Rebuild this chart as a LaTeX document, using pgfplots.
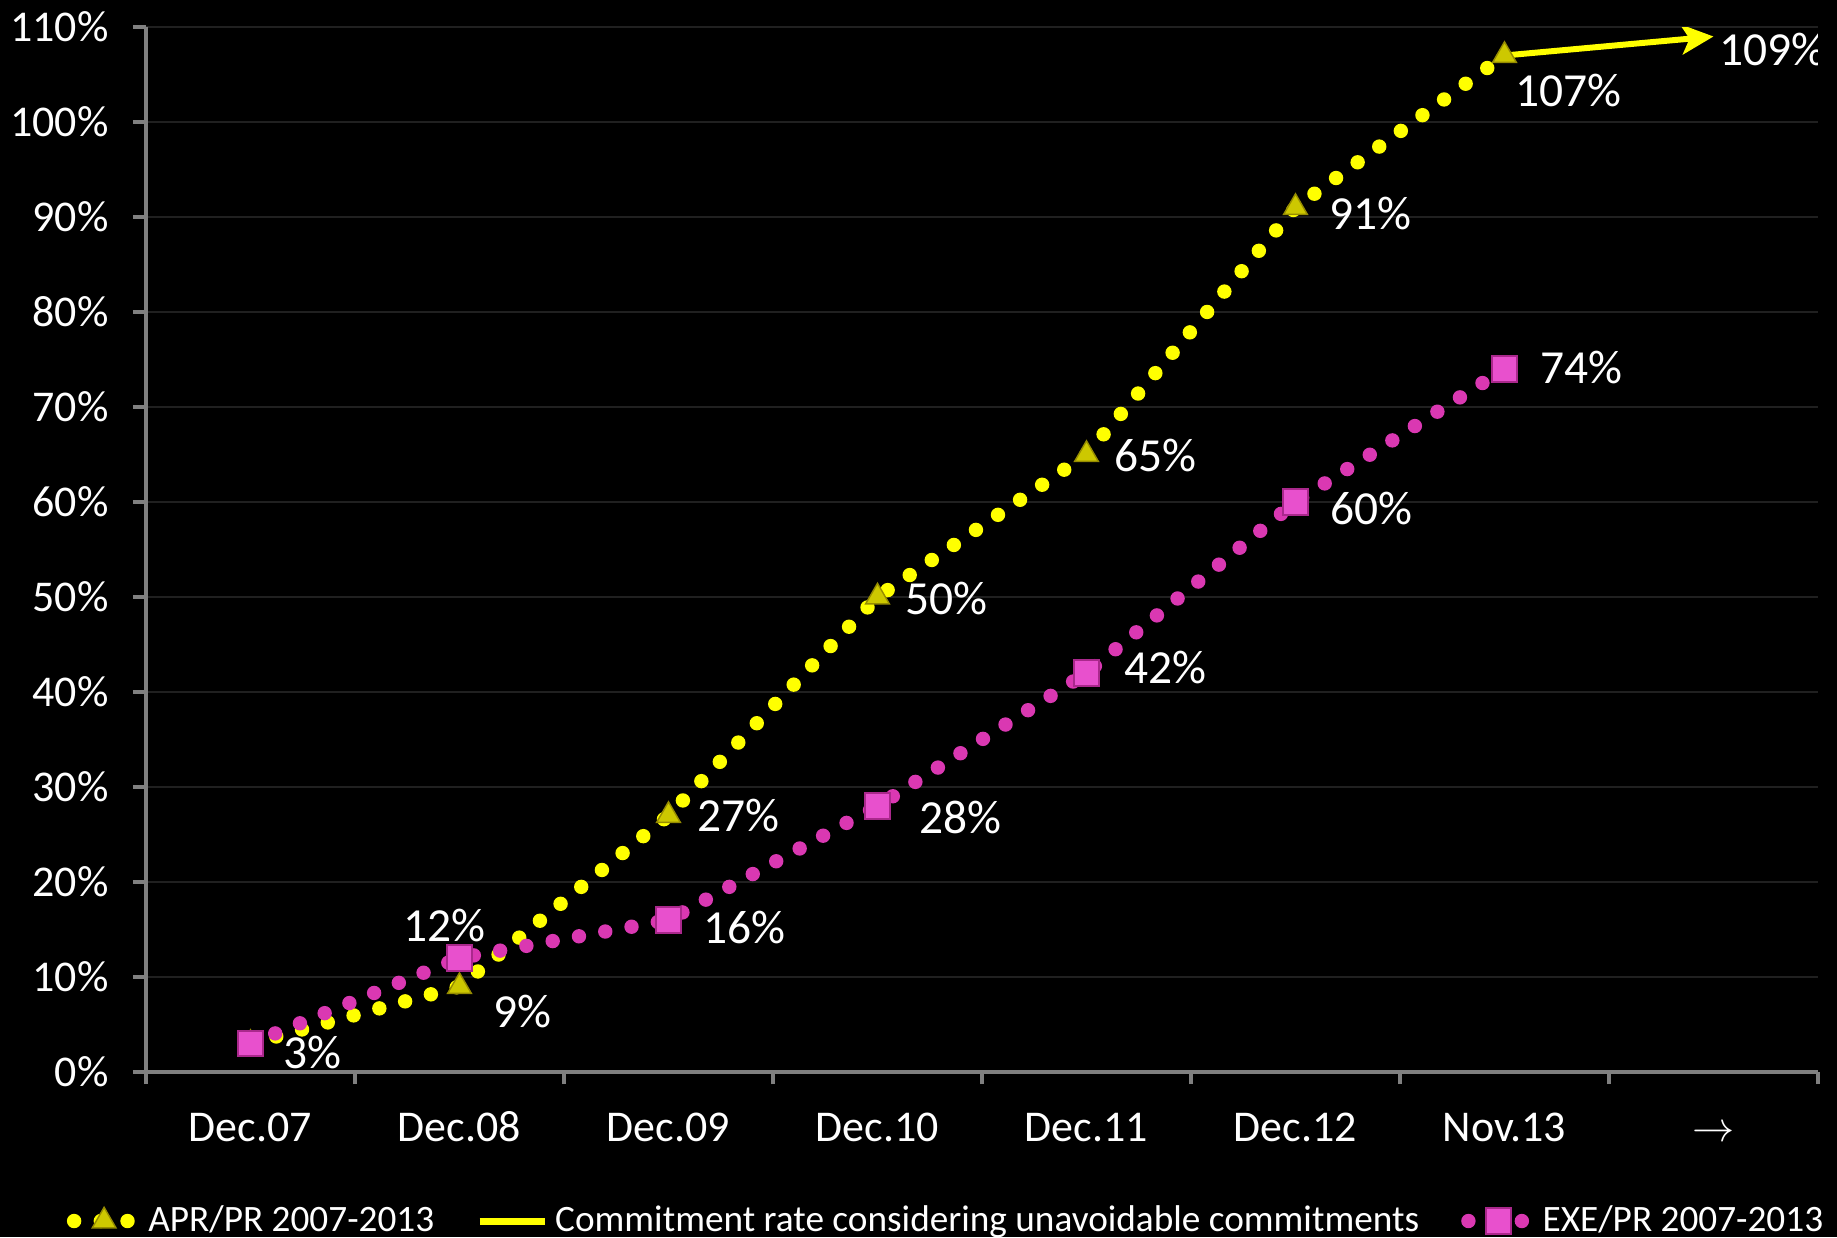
\documentclass[border=0pt]{standalone}
\usepackage{pgfplots}
\pgfplotsset{compat=1.18}
\usepackage{fontspec}
\setmainfont{Carlito}
\usetikzlibrary{arrows.meta,backgrounds}
\definecolor{ylw}{RGB}{255,255,0}
\definecolor{mag}{RGB}{218,56,178}
\definecolor{trifill}{RGB}{205,200,0}
\definecolor{tridraw}{RGB}{150,140,0}
\definecolor{sqfill}{RGB}{232,80,205}
\definecolor{sqdraw}{RGB}{170,40,140}
\definecolor{gridc}{RGB}{32,32,32}
\definecolor{axc}{RGB}{128,128,128}
\pgfplotsset{
  dotlegend/.style={legend image code/.code={\draw[mark repeat=2,mark phase=2,##1] plot coordinates {(0cm,0cm)(0.3cm,0cm)(0.6cm,0cm)};}},
  arrlegend/.style={legend image code/.code={\draw[-, ylw, line width=2pt] (0cm,0cm) -- (0.65cm,0cm);}},
}
\begin{document}
\begin{tikzpicture}
\begin{axis}[
  name=ax,
  scale only axis,
  width=167.2mm, height=104.5mm,
  xmin=-0.5, xmax=7.5,
  ymin=0, ymax=110,
  axis x line*=bottom, axis y line*=left,
  axis line style={axc, line width=0.9pt},
  xtick={0,...,7},
  xticklabels={Dec.07,Dec.08,Dec.09,Dec.10,Dec.11,Dec.12,Nov.13,$\rightarrow$},
  major x tick style={draw=none},
  minor xtick={-0.5,0.5,...,7.5},
  minor x tick style={axc, line width=0.9pt},
  minor tick length=1.2mm,
  ytick={0,10,...,110},
  yticklabel={\pgfmathprintnumber{\tick}\%},
  major y tick style={axc, line width=0.9pt},
  major tick length=1.3mm,
  tick align=outside,
  ymajorgrids,
  major grid style={gridc, line width=0.8pt},
  /pgf/number format/assume math mode=true,
  tick label style={white, font=\fontsize{12.5}{14}\selectfont},
  xticklabel style={yshift=-1.7mm, text height=1.6ex, text depth=0.3ex},
  yticklabel style={xshift=-1.2mm},
  legend columns=3,
  legend style={at={(0.48,0)}, anchor=center, yshift=-14.9mm, fill=none, draw=none,
    text=white, font=\fontsize{10.6}{12}\selectfont,
    /tikz/every even column/.append style={column sep=3.5mm}},
  legend cell align=left,
]
\addplot[ylw, line width=4.1pt, line cap=round, dash pattern=on 0pt off 7.6pt,
  mark=triangle*, mark size=3.9pt, mark options={solid, fill=trifill, draw=tridraw, line width=0.4pt},
  dotlegend]
  coordinates {(0,3)(1,9)(2,27)(3,50)(4,65)(5,91)(6,107)};
\addlegendentry{APR/PR 2007-2013}
\addplot[ylw, line width=1.7pt, -{Stealth[length=3.2mm,width=3mm,inset=0.8mm]},
  arrlegend]
  coordinates {(6,107)(7,109)};
\addlegendentry{Commitment rate considering unavoidable commitments}
\addplot[mag, line width=4.1pt, line cap=round, dash pattern=on 0pt off 7.6pt,
  mark=square*, mark size=3.6pt, mark options={solid, fill=sqfill, draw=sqdraw, line width=0.5pt},
  dotlegend]
  coordinates {(0,3)(1,12)(2,16)(3,28)(4,42)(5,60)(6,74)};
\addlegendentry{EXE/PR 2007-2013}
% data labels
\begin{scope}[every node/.style={text=white, font=\fontsize{13.5}{15}\selectfont, inner sep=0pt}]
\node at (axis cs:0,3) [xshift=6.2mm, yshift=-0.9mm] {3\%};
\node at (axis cs:1,9) [xshift=6.3mm, yshift=-2.5mm] {9\%};
\node at (axis cs:2,27) [xshift=7.0mm, yshift=0mm] {27\%};
\node at (axis cs:3,50) [xshift=6.9mm, yshift=-0.2mm] {50\%};
\node at (axis cs:4,65) [xshift=6.9mm, yshift=-0.1mm] {65\%};
\node at (axis cs:5,91) [xshift=7.5mm, yshift=-0.6mm] {91\%};
\node at (axis cs:6,107) [xshift=6.4mm, yshift=-3.5mm] {107\%};
\node at (axis cs:7,109) [xshift=5.9mm, yshift=-1.3mm] {109\%};
\node at (axis cs:1,12) [xshift=-1.5mm, yshift=3.3mm] {12\%};
\node at (axis cs:2,16) [xshift=7.6mm, yshift=-0.7mm] {16\%};
\node at (axis cs:3,28) [xshift=8.3mm, yshift=-1.1mm] {28\%};
\node at (axis cs:4,42) [xshift=7.9mm, yshift=0.6mm] {42\%};
\node at (axis cs:5,60) [xshift=7.6mm, yshift=-0.7mm] {60\%};
\node at (axis cs:6,74) [xshift=7.7mm, yshift=0.1mm] {74\%};
\end{scope}
\end{axis}
\pgfresetboundingbox
\path[use as bounding box] ([shift={(-14.6mm,-16.5mm)}]ax.south west) rectangle ([shift={(169.1mm,107.2mm)}]ax.south west);
\begin{pgfonlayer}{background}
\fill[black] ([shift={(-14.6mm,-16.5mm)}]ax.south west) rectangle ([shift={(169.1mm,107.2mm)}]ax.south west);
\end{pgfonlayer}
\end{tikzpicture}
\end{document}
